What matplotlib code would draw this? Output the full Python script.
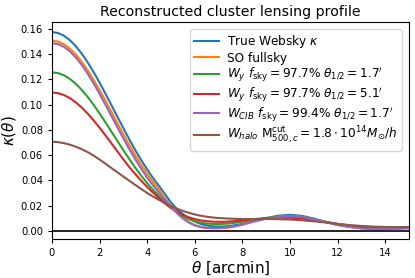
import numpy as np
import matplotlib
matplotlib.use("Agg")
import matplotlib.pyplot as plt

# radial bins [arcmin]: finer steps in the central lobe
theta = np.concatenate([np.arange(0, 8, 0.25), np.arange(8, 15.01, 0.5)])

# kappa profiles
kappa_true = [0.1575, 0.1568, 0.1546, 0.1511, 0.1463, 0.1404, 0.1335, 0.1257, 0.1174, 0.1085,
              0.0995, 0.0903, 0.0813, 0.0724, 0.0640, 0.0560, 0.0486, 0.0417, 0.0355, 0.0290,
              0.0225, 0.0172, 0.0133, 0.0100, 0.0074, 0.0055, 0.0043, 0.0036, 0.0034, 0.0035,
              0.0040, 0.0047,
              0.0056, 0.0079, 0.0102, 0.0120, 0.0127, 0.0119, 0.0098, 0.0071, 0.0047, 0.0031,
              0.0021, 0.0017, 0.0017, 0.0020, 0.0025]
kappa_so = [0.1507, 0.1500, 0.1479, 0.1444, 0.1398, 0.1340, 0.1272, 0.1196, 0.1115, 0.1029,
            0.0941, 0.0852, 0.0765, 0.0680, 0.0599, 0.0522, 0.0451, 0.0386, 0.0325, 0.0258,
            0.0197, 0.0145, 0.0103, 0.0070, 0.0046, 0.0031, 0.0023, 0.0020, 0.0020, 0.0023,
            0.0028, 0.0037,
            0.0048, 0.0075, 0.0098, 0.0113, 0.0118, 0.0112, 0.0092, 0.0068, 0.0047, 0.0032,
            0.0022, 0.0018, 0.0018, 0.0020, 0.0024]
kappa_wy_17 = [0.1256, 0.1250, 0.1233, 0.1204, 0.1165, 0.1117, 0.1061, 0.0998, 0.0930, 0.0859,
               0.0785, 0.0712, 0.0639, 0.0568, 0.0500, 0.0437, 0.0378, 0.0323, 0.0274, 0.0228,
               0.0185, 0.0148, 0.0117, 0.0093, 0.0076, 0.0065, 0.0058, 0.0055, 0.0054, 0.0056,
               0.0060, 0.0066,
               0.0073, 0.0088, 0.0102, 0.0112, 0.0114, 0.0108, 0.0092, 0.0072, 0.0052, 0.0037,
               0.0027, 0.0022, 0.0021, 0.0022, 0.0024]
kappa_wy_51 = [0.1096, 0.1091, 0.1076, 0.1052, 0.1018, 0.0977, 0.0929, 0.0875, 0.0817, 0.0756,
               0.0693, 0.0629, 0.0566, 0.0505, 0.0450, 0.0397, 0.0348, 0.0302, 0.0258, 0.0217,
               0.0180, 0.0150, 0.0126, 0.0107, 0.0093, 0.0083, 0.0077, 0.0073, 0.0072, 0.0072,
               0.0075, 0.0078,
               0.0083, 0.0093, 0.0101, 0.0105, 0.0104, 0.0098, 0.0086, 0.0071, 0.0055, 0.0042,
               0.0033, 0.0027, 0.0025, 0.0025, 0.0026]
kappa_cib = [0.1487, 0.1480, 0.1458, 0.1423, 0.1374, 0.1315, 0.1245, 0.1168, 0.1085, 0.0998,
             0.0909, 0.0820, 0.0732, 0.0647, 0.0567, 0.0491, 0.0422, 0.0359, 0.0300, 0.0244,
             0.0190, 0.0140, 0.0098, 0.0066, 0.0043, 0.0030, 0.0024, 0.0022, 0.0023, 0.0026,
             0.0031, 0.0040,
             0.0050, 0.0075, 0.0097, 0.0110, 0.0115, 0.0110, 0.0092, 0.0070, 0.0048, 0.0032,
             0.0020, 0.0015, 0.0015, 0.0017, 0.0020]
kappa_halo = [0.0706, 0.0703, 0.0695, 0.0683, 0.0667, 0.0647, 0.0624, 0.0596, 0.0565, 0.0532,
              0.0497, 0.0464, 0.0430, 0.0397, 0.0364, 0.0332, 0.0300, 0.0271, 0.0245, 0.0220,
              0.0196, 0.0176, 0.0158, 0.0143, 0.0130, 0.0120, 0.0112, 0.0106, 0.0102, 0.0099,
              0.0097, 0.0095,
              0.0094, 0.0094, 0.0094, 0.0093, 0.0090, 0.0084, 0.0076, 0.0066, 0.0056, 0.0046,
              0.0039, 0.0034, 0.0031, 0.0030, 0.0030]

labels = [
    r"True Websky $\kappa$",
    "SO fullsky",
    r"$W_y$ $f_{\rm sky}=97.7\%$ $\theta_{1/2}=1.7'$",
    r"$W_y$ $f_{\rm sky}=97.7\%$ $\theta_{1/2}=5.1'$",
    r"$W_{CIB}$ $f_{\rm sky}=99.4\%$ $\theta_{1/2}=1.7'$",
    r"$W_{halo}$ ${\rm M}_{500,c}^{\rm cut}=1.8\cdot10^{14}M_{\odot}/h$",
]
series = [kappa_true, kappa_so, kappa_wy_17, kappa_wy_51, kappa_cib, kappa_halo]
colors = ["C0", "C1", "C2", "C3", "C4", "C5"]

fig = plt.figure(figsize=(4.15, 2.78), dpi=100)
ax = fig.add_axes([0.1253, 0.140, 0.8602, 0.781])

for k, lab, c in zip(series, labels, colors):
    ax.plot(theta, k, color=c, lw=1.5, label=lab)
ax.axhline(0, color="k", lw=1.2)

ax.set_xlim(0, 15)
ax.set_ylim(-0.0065, 0.1655)
ax.set_yticks(np.arange(0, 0.161, 0.02))
ax.tick_params(labelsize=7.2, length=3)
ax.set_xlabel(r"$\theta$ [arcmin]", fontsize=11, labelpad=1)
ax.set_ylabel(r"$\kappa(\theta)$", fontsize=11, labelpad=2)
ax.set_title("Reconstructed cluster lensing profile", fontsize=10.2, pad=4)
ax.legend(loc="upper right", fontsize=8.7, labelspacing=0.1, handlelength=2.0,
          handletextpad=0.7, borderpad=0.35, borderaxespad=0.6)

fig.savefig("out.png", dpi=100)
